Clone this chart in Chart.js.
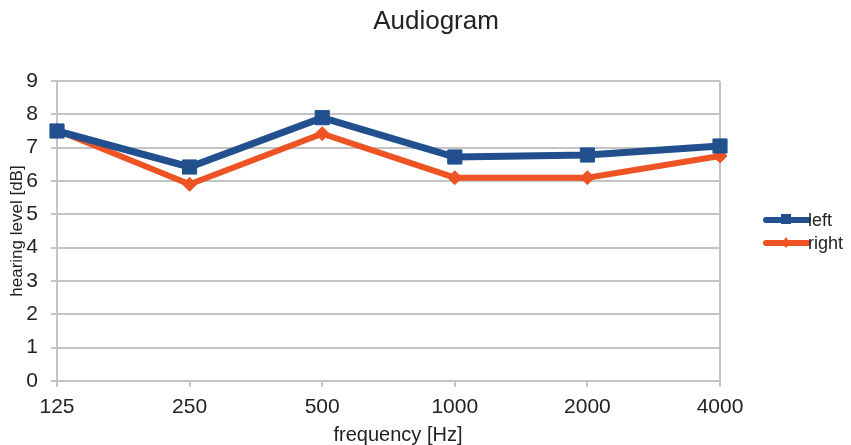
<!DOCTYPE html>
<html>
<head>
<meta charset="utf-8">
<script src="https://cdn.jsdelivr.net/npm/chart.js@4"></script>
<style>
  html, body { margin: 0; padding: 0; background: #fff; }
  #wrap { width: 851px; height: 445px; position: relative; }
</style>
</head>
<body>
<div id="wrap"><canvas id="c" width="851" height="445"></canvas></div>
<script>
const chartTitle = 'Audiogram';
const xAxisTitle = 'frequency [Hz]';
const yAxisTitle = 'hearing level [dB]';
const frequencies = ['125', '250', '500', '1000', '2000', '4000'];
const leftEar = [7.5, 6.42, 7.9, 6.72, 6.78, 7.05];
const rightEar = [7.52, 5.9, 7.42, 6.1, 6.1, 6.75];
const seriesNames = ['left', 'right'];
const yTicks = [0, 1, 2, 3, 4, 5, 6, 7, 8, 9];

const FONT = "'Liberation Sans', Arial, Helvetica, sans-serif";
const BLUE = '#22508f';
const ORANGE = '#ee5324';
const GRID = '#c4c4c4';
const TEXT = '#222';

const decorPlugin = {
  id: 'decor',
  afterDraw(chart) {
    const ctx = chart.ctx;
    ctx.save();
    // title
    ctx.fillStyle = TEXT;
    ctx.font = '26px ' + FONT;
    ctx.textAlign = 'center';
    ctx.textBaseline = 'middle';
    ctx.fillText(chartTitle, 436, 22);
    // x axis title
    ctx.font = '20px ' + FONT;
    ctx.fillText(xAxisTitle, 398, 435);
    // legend
    const items = [
      { name: seriesNames[0], color: BLUE, style: 'rect', y: 220 },
      { name: seriesNames[1], color: ORANGE, style: 'rectRot', y: 243 }
    ];
    items.forEach(it => {
      ctx.strokeStyle = it.color;
      ctx.lineWidth = 6;
      ctx.lineCap = 'round';
      ctx.beginPath();
      ctx.moveTo(766, it.y);
      ctx.lineTo(808, it.y);
      ctx.stroke();
      ctx.fillStyle = it.color;
      ctx.beginPath();
      if (it.style === 'rect') ctx.rect(781, it.y - 6, 10, 10);
      else { ctx.moveTo(786, it.y - 6); ctx.lineTo(790, it.y); ctx.lineTo(786, it.y + 5); ctx.lineTo(782, it.y); ctx.closePath(); }
      ctx.fill();
      ctx.fillStyle = TEXT;
      ctx.font = '18px ' + FONT;
      ctx.textBaseline = 'middle';
      ctx.textAlign = 'left';
      ctx.fillText(it.name, 808, it.y + 1);
    });
    ctx.restore();
  }
};

new Chart(document.getElementById('c'), {
  type: 'line',
  data: {
    labels: frequencies,
    datasets: [
      {
        label: seriesNames[0],
        data: leftEar,
        borderColor: BLUE,
        backgroundColor: BLUE,
        borderWidth: 7,
        pointStyle: 'rect',
        pointRadius: 10,
        pointBorderWidth: 1,
        tension: 0
      },
      {
        label: seriesNames[1],
        data: rightEar,
        borderColor: ORANGE,
        backgroundColor: ORANGE,
        borderWidth: 6,
        pointStyle: 'rectRot',
        pointRadius: 7,
        pointBorderWidth: 1,
        tension: 0
      }
    ]
  },
  options: {
    responsive: false,
    animation: false,
    layout: { padding: { left: 0, right: 131, top: 81, bottom: 0 } },
    plugins: {
      legend: { display: false },
      tooltip: { enabled: false },
      title: { display: false }
    },
    scales: {
      x: {
        type: 'category',
        offset: false,
        afterFit(scale) { scale.height = 64; },
        grid: {
          color: (c) => (c.index === frequencies.length - 1 ? GRID : 'rgba(0,0,0,0)'),
          lineWidth: 2,
          tickColor: GRID,
          tickLength: 6,
          drawOnChartArea: true
        },
        border: { color: GRID, width: 2 },
        ticks: {
          color: TEXT,
          font: { family: FONT, size: 21 },
          padding: 8,
          maxRotation: 0
        },
        title: { display: false }
      },
      y: {
        min: 0,
        max: 9,
        afterFit(scale) { scale.width = 57; },
        afterBuildTicks(scale) { scale.ticks = yTicks.map(v => ({ value: v })); },
        grid: {
          color: GRID,
          lineWidth: 2,
          tickColor: GRID,
          tickLength: 6
        },
        border: { color: GRID, width: 2 },
        ticks: {
          color: TEXT,
          font: { family: FONT, size: 21 },
          padding: 13
        },
        title: {
          display: true,
          text: yAxisTitle,
          color: TEXT,
          font: { family: FONT, size: 17, lineHeight: 1.2 },
          padding: { top: 7, bottom: 0 }
        }
      }
    }
  },
  plugins: [decorPlugin]
});
</script>
</body>
</html>
